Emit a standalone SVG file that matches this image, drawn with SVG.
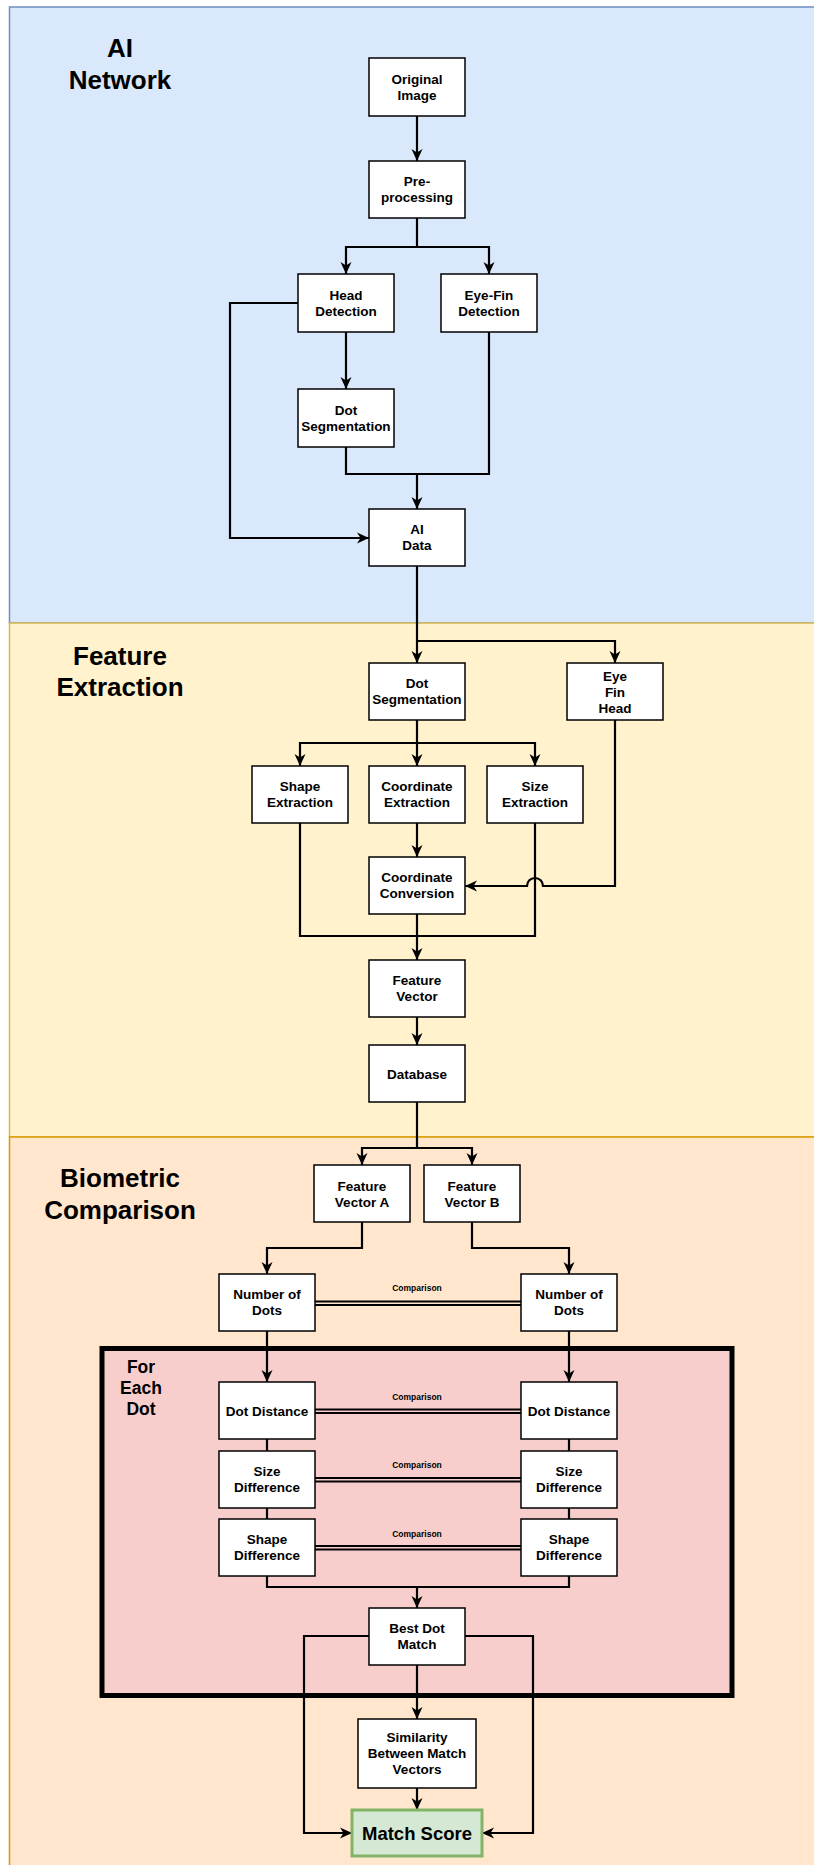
<svg xmlns="http://www.w3.org/2000/svg" width="814" height="1865" viewBox="0 0 814 1865">
<style>
.box{fill:#fff;stroke:#000;stroke-width:1.5}
.t{font-family:"Liberation Sans",Arial,sans-serif;font-weight:bold;font-size:13.5px;fill:#000;text-anchor:middle;dominant-baseline:central}
.title{font-family:"Liberation Sans",Arial,sans-serif;font-weight:bold;font-size:26px;fill:#000;text-anchor:middle;dominant-baseline:central}
.cmp{font-family:"Liberation Sans",Arial,sans-serif;font-weight:bold;font-size:8.5px;fill:#000;text-anchor:middle;dominant-baseline:central}
.c{fill:none;stroke:#000;stroke-width:2.2}
.a{marker-end:url(#arr)}
.dl{fill:none;stroke:#000;stroke-width:2}
</style>
<defs>
<marker id="arr" markerUnits="userSpaceOnUse" markerWidth="14" markerHeight="12" refX="12" refY="6" orient="auto">
<path d="M0,0.5 L12,6 L0,11.5 L3.5,6 Z" fill="#000"/>
</marker>
</defs>

<g id="sections">
<rect x="9.5" y="7" width="830" height="616" fill="#dae8fc" stroke="#6c8ebf" stroke-width="1.5"/>
<rect x="9.5" y="623" width="830" height="514" fill="#fff2cc" stroke="#d6b656" stroke-width="1.5"/>
<rect x="9.5" y="1137" width="830" height="760" fill="#ffe6cc" stroke="#d79b00" stroke-width="1.5"/>
<text class="title" x="120" y="48">AI</text>
<text class="title" x="120" y="80">Network</text>
<text class="title" x="120" y="656">Feature</text>
<text class="title" x="120" y="687">Extraction</text>
<text class="title" x="120" y="1178">Biometric</text>
<text class="title" x="120" y="1210">Comparison</text>
</g>

<g id="for-each-dot">
<rect x="102" y="1348.5" width="630" height="347" fill="#f8cecc" stroke="#000" stroke-width="5"/>
<text class="t" x="141" y="1367" style="font-size:17.5px">For</text>
<text class="t" x="141" y="1388" style="font-size:17.5px">Each</text>
<text class="t" x="141" y="1409" style="font-size:17.5px">Dot</text>
</g>

<g id="connectors">
<path class="c a" d="M417,116 V161"/>
<path class="c a" d="M417,218 V247 H346 V274"/>
<path class="c a" d="M417,247 H489 V274"/>
<path class="c a" d="M298,303 H230 V538 H369"/>
<path class="c a" d="M346,332 V389"/>
<path class="c" d="M346,447 V474 H489 V332"/>
<path class="c a" d="M417,474 V509"/>
<path class="c a" d="M417,566 V663"/>
<path class="c a" d="M417,641 H615 V663"/>
<path class="c a" d="M417,720 V766"/>
<path class="c a" d="M417,743 H300 V766"/>
<path class="c a" d="M417,743 H535 V766"/>
<path class="c a" d="M417,823 V857"/>
<path class="c a" d="M615,720 V886 H543 A8,8 0 0 0 527,886 H465"/>
<path class="c" d="M300,823 V936 H535 V823"/>
<path class="c a" d="M417,914 V960"/>
<path class="c a" d="M417,1017 V1045"/>
<path class="c a" d="M417,1102 V1148 H362 V1165"/>
<path class="c a" d="M417,1148 H472 V1165"/>
<path class="c a" d="M362,1222 V1248 H267 V1274"/>
<path class="c a" d="M472,1222 V1248 H569 V1274"/>
<path class="c a" d="M267,1331 V1382"/>
<path class="c a" d="M569,1331 V1382"/>
<path class="c" d="M267,1439 V1451 M569,1439 V1451 M267,1508 V1519 M569,1508 V1519"/>
<path class="c" d="M267,1576 V1587 H569 V1576"/>
<path class="c a" d="M417,1587 V1608"/>
<path class="c a" d="M369,1636 H304 V1833 H352"/>
<path class="c a" d="M465,1636 H533 V1833 H482"/>
<path class="c a" d="M417,1665 V1719"/>
<path class="c a" d="M417,1788 V1810"/>
<path class="dl" d="M315,1301.5 H521 M315,1305 H521"/>
<path class="dl" d="M315,1409.5 H521 M315,1413 H521"/>
<path class="dl" d="M315,1478 H521 M315,1481.5 H521"/>
<path class="dl" d="M315,1546 H521 M315,1549.5 H521"/>
<text class="cmp" x="417" y="1288">Comparison</text>
<text class="cmp" x="417" y="1396.5">Comparison</text>
<text class="cmp" x="417" y="1465">Comparison</text>
<text class="cmp" x="417" y="1533.5">Comparison</text>
</g>

<g id="original-image"><rect class="box" x="369" y="58" width="96" height="58"/><text class="t" x="417" y="79">Original</text><text class="t" x="417" y="95">Image</text></g>
<g id="pre-processing"><rect class="box" x="369" y="161" width="96" height="57"/><text class="t" x="417" y="181.5">Pre-</text><text class="t" x="417" y="197.5">processing</text></g>
<g id="head-detection"><rect class="box" x="298" y="274" width="96" height="58"/><text class="t" x="346" y="295">Head</text><text class="t" x="346" y="311">Detection</text></g>
<g id="eye-fin-detection"><rect class="box" x="441" y="274" width="96" height="58"/><text class="t" x="489" y="295">Eye-Fin</text><text class="t" x="489" y="311">Detection</text></g>
<g id="dot-segmentation-1"><rect class="box" x="298" y="389" width="96" height="58"/><text class="t" x="346" y="410">Dot</text><text class="t" x="346" y="426">Segmentation</text></g>
<g id="ai-data"><rect class="box" x="369" y="509" width="96" height="57"/><text class="t" x="417" y="529.5">AI</text><text class="t" x="417" y="545.5">Data</text></g>

<g id="dot-segmentation-2"><rect class="box" x="369" y="663" width="96" height="57"/><text class="t" x="417" y="683.5">Dot</text><text class="t" x="417" y="699.5">Segmentation</text></g>
<g id="eye-fin-head"><rect class="box" x="567" y="663" width="96" height="57"/><text class="t" x="615" y="676">Eye</text><text class="t" x="615" y="692">Fin</text><text class="t" x="615" y="708">Head</text></g>
<g id="shape-extraction"><rect class="box" x="252" y="766" width="96" height="57"/><text class="t" x="300" y="786.5">Shape</text><text class="t" x="300" y="802.5">Extraction</text></g>
<g id="coordinate-extraction"><rect class="box" x="369" y="766" width="96" height="57"/><text class="t" x="417" y="786.5">Coordinate</text><text class="t" x="417" y="802.5">Extraction</text></g>
<g id="size-extraction"><rect class="box" x="487" y="766" width="96" height="57"/><text class="t" x="535" y="786.5">Size</text><text class="t" x="535" y="802.5">Extraction</text></g>
<g id="coordinate-conversion"><rect class="box" x="369" y="857" width="96" height="57"/><text class="t" x="417" y="877.5">Coordinate</text><text class="t" x="417" y="893.5">Conversion</text></g>
<g id="feature-vector"><rect class="box" x="369" y="960" width="96" height="57"/><text class="t" x="417" y="980.5">Feature</text><text class="t" x="417" y="996.5">Vector</text></g>
<g id="database"><rect class="box" x="369" y="1045" width="96" height="57"/><text class="t" x="417" y="1074">Database</text></g>

<g id="feature-vector-a"><rect class="box" x="314" y="1165" width="96" height="57"/><text class="t" x="362" y="1186">Feature</text><text class="t" x="362" y="1202">Vector A</text></g>
<g id="feature-vector-b"><rect class="box" x="424" y="1165" width="96" height="57"/><text class="t" x="472" y="1186">Feature</text><text class="t" x="472" y="1202">Vector B</text></g>
<g id="number-of-dots-a"><rect class="box" x="219" y="1274" width="96" height="57"/><text class="t" x="267" y="1294.5">Number of</text><text class="t" x="267" y="1310.5">Dots</text></g>
<g id="number-of-dots-b"><rect class="box" x="521" y="1274" width="96" height="57"/><text class="t" x="569" y="1294.5">Number of</text><text class="t" x="569" y="1310.5">Dots</text></g>
<g id="dot-distance-a"><rect class="box" x="219" y="1382" width="96" height="57"/><text class="t" x="267" y="1411">Dot Distance</text></g>
<g id="dot-distance-b"><rect class="box" x="521" y="1382" width="96" height="57"/><text class="t" x="569" y="1411">Dot Distance</text></g>
<g id="size-difference-a"><rect class="box" x="219" y="1451" width="96" height="57"/><text class="t" x="267" y="1471.5">Size</text><text class="t" x="267" y="1487.5">Difference</text></g>
<g id="size-difference-b"><rect class="box" x="521" y="1451" width="96" height="57"/><text class="t" x="569" y="1471.5">Size</text><text class="t" x="569" y="1487.5">Difference</text></g>
<g id="shape-difference-a"><rect class="box" x="219" y="1519" width="96" height="57"/><text class="t" x="267" y="1539.5">Shape</text><text class="t" x="267" y="1555.5">Difference</text></g>
<g id="shape-difference-b"><rect class="box" x="521" y="1519" width="96" height="57"/><text class="t" x="569" y="1539.5">Shape</text><text class="t" x="569" y="1555.5">Difference</text></g>
<g id="best-dot-match"><rect class="box" x="369" y="1608" width="96" height="57"/><text class="t" x="417" y="1628.5">Best Dot</text><text class="t" x="417" y="1644.5">Match</text></g>
<g id="similarity"><rect class="box" x="358" y="1719" width="118" height="69"/><text class="t" x="417" y="1737.5">Similarity</text><text class="t" x="417" y="1753.5">Between Match</text><text class="t" x="417" y="1769.5">Vectors</text></g>
<g id="match-score"><rect x="352" y="1810" width="130" height="46" fill="#d5e8d4" stroke="#82b366" stroke-width="3"/><text class="t" x="417" y="1833" style="font-size:18.5px">Match Score</text></g>
</svg>
